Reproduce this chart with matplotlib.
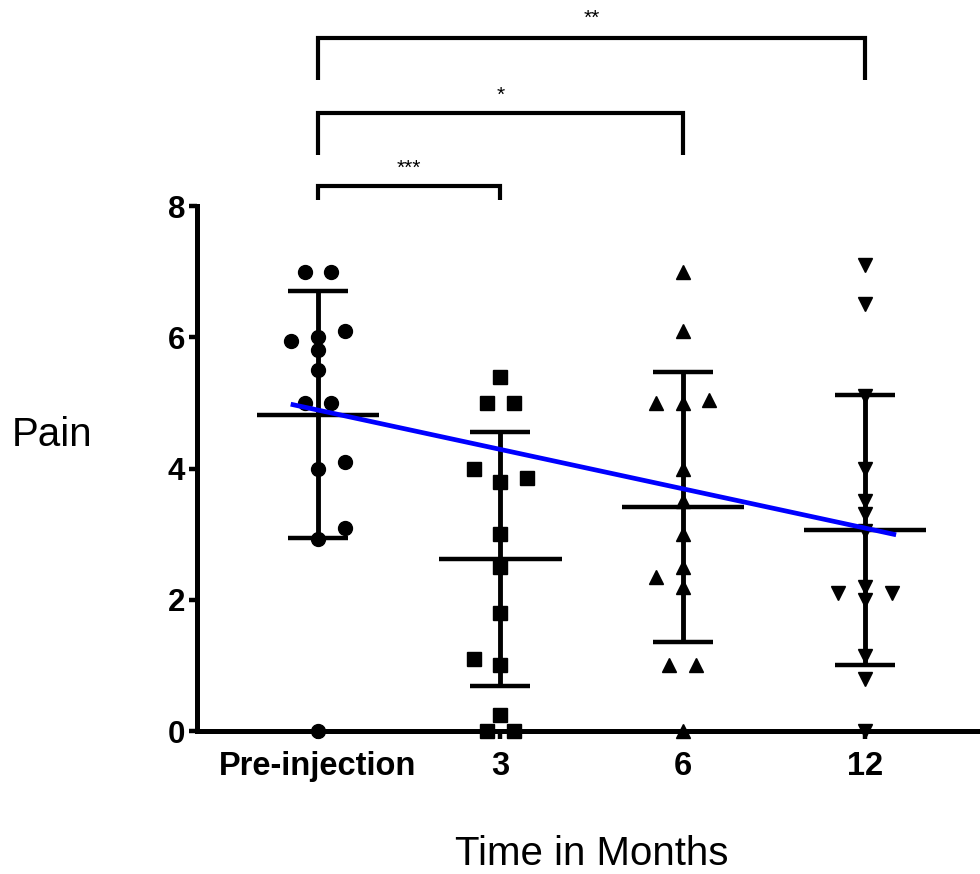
import numpy as np
import matplotlib
matplotlib.use("Agg")
import matplotlib.pyplot as plt

plt.rcParams['font.family'] = ['Liberation Sans', 'DejaVu Sans']

categories = ["Pre-injection", "3", "6", "12"]
pre_values = [7.0, 7.0, 6.1, 6.0, 5.95, 5.8, 5.5, 5.0, 5.0, 4.1, 4.0, 3.1, 2.93, 0.0]
m3_values = [5.4, 5.0, 5.0, 4.0, 3.8, 3.85, 3.0, 2.5, 1.8, 1.1, 1.0, 0.25, 0.0, 0.0]
m6_values = [7.0, 6.1, 5.0, 5.0, 5.05, 4.0, 3.5, 3.0, 2.5, 2.35, 2.2, 1.0, 1.0, 0.0]
m12_values = [7.1, 6.5, 5.1, 4.0, 3.5, 3.3, 3.05, 2.2, 2.1, 2.1, 2.0, 1.15, 0.8, 0.0]
# column-scatter slot of each point (-2..2), as laid out in the reference
pre_slots = [-1, 1, 2, 0, -2, 0, 0, -1, 1, 2, 0, 2, 0, 0]
m3_slots = [0, -1, 1, -2, 0, 2, 0, 0, 0, -2, 0, 0, -1, 1]
m6_slots = [0, 0, -2, 0, 2, 0, 0, 0, 0, -2, 0, -1, 1, 0]
m12_slots = [0, 0, 0, 0, 0, 0, 0, 0, -2, 2, 0, 0, 0, 0]
trend_x = [-0.15, 3.17]
trend_y = [4.98, 2.99]
sig_pairs = [(0, 1), (0, 2), (0, 3)]
sig_labels = ["***", "*", "**"]
yticks = [0, 2, 4, 6, 8]

groups = [pre_values, m3_values, m6_values, m12_values]
slots = [pre_slots, m3_slots, m6_slots, m12_slots]
markers = ['o', 's', '^', 'v']
msizes = [10, 9.5, 9.5, 9.5]

fig = plt.figure(figsize=(9.8, 8.74), dpi=100)
ax = fig.add_axes([0.201, 0.1636, 0.799, 0.6007])
ax.set_xlim(-0.664, 3.63)
ax.set_ylim(0, 8)

slot_w = 0.073
for i, (vals, sl) in enumerate(zip(groups, slots)):
    v = np.array(vals)
    xs = i + np.array(sl) * slot_w
    m = v.mean()
    sd = v.std(ddof=1)
    ax.errorbar([i], [m], yerr=[sd], fmt='none', ecolor='black',
                elinewidth=3.5, capsize=21.5, capthick=3.2, clip_on=False, zorder=3)
    ax.hlines(m, i - 0.335, i + 0.335, color='black', lw=3.2, zorder=3)
    ax.plot(xs, v, linestyle='none', marker=markers[i], ms=msizes[i],
            color='black', mec='black', clip_on=False, zorder=4)

ax.plot(trend_x, trend_y, color='#0000ff', lw=3.4, zorder=5, solid_capstyle='butt')

# significance brackets
bracket_levels = [(8.09, 8.30, 8.58), (8.78, 9.42, 9.68), (9.92, 10.56, 10.86)]
for (a, b), lab, (yb, yt, ys) in zip(sig_pairs, sig_labels, bracket_levels):
    ax.plot([a, a, b, b], [yb, yt, yt, yb], color='black', lw=3.0,
            clip_on=False, solid_joinstyle='miter', solid_capstyle='butt')
    ax.text((a + b) / 2, ys, lab, ha='center', va='center', fontsize=15, clip_on=False)

for s in ['top', 'right']:
    ax.spines[s].set_visible(False)
for s in ['left', 'bottom']:
    ax.spines[s].set_linewidth(3.6)
    ax.spines[s].set_capstyle('projecting')

ax.set_xticks(range(len(categories)))
ax.set_xticklabels(categories, fontsize=23.5, fontweight='bold')
ax.set_yticks(yticks)
ax.set_yticklabels([str(t) for t in yticks], fontsize=22.5, fontweight='bold')
ax.tick_params(axis='both', direction='out', width=3.2, length=5.5, color='black')
ax.tick_params(axis='x', pad=9)
ax.tick_params(axis='y', pad=3)

fig.text(12 / 980, 1 - 435 / 874, "Pain", fontsize=29, ha='left', va='center')
fig.text(592 / 980, 9 / 874, "Time in Months", fontsize=29, ha='center', va='baseline')

fig.savefig("out.png", dpi=100)
